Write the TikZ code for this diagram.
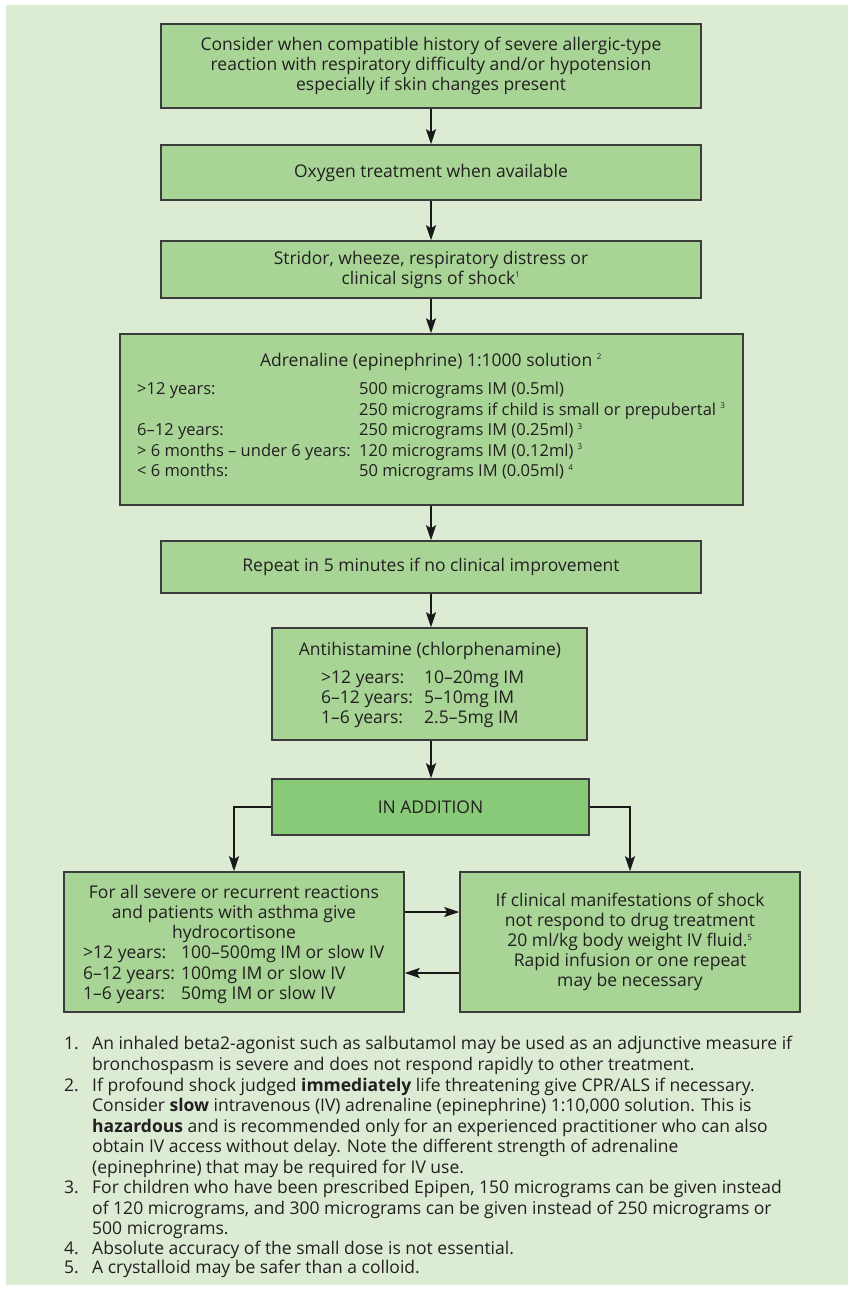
\documentclass[tikz,border=0pt]{standalone}
\usepackage{fontspec}
\setmainfont{Open Sans}
\usetikzlibrary{arrows.meta}
\definecolor{panelbg}{RGB}{219,235,212}
\definecolor{boxfill}{RGB}{168,213,150}
\definecolor{boxfilldark}{RGB}{137,202,120}
\definecolor{edge}{RGB}{60,60,60}
\definecolor{ink}{RGB}{35,31,32}
\newcommand\supmark[1]{\textsuperscript{\fontsize{8}{8}\selectfont #1}}
\begin{document}
\begin{tikzpicture}[x=1pt,y=-1pt,
  every node/.style={text=ink, font=\fontsize{17.5}{20}\selectfont},
  box/.style={draw=edge, line width=1.5pt, fill=boxfill, inner sep=0pt, align=center},
  keybox/.style={box, fill=boxfilldark},
  arr/.style={draw=black!90, line width=2pt, -{Stealth[length=15pt,width=10pt,inset=3pt]}},
  txt/.style={inner sep=0pt, anchor=base west},
  ctr/.style={inner sep=0pt, anchor=base},
  dose/.style={txt, font=\fontsize{16.5}{20}\selectfont}]
\useasboundingbox (0,0) rectangle (854,1290);
\fill[panelbg] (6,5) rectangle (848,1285);

% main column of steps
\node[box, minimum width=540pt, minimum height=84pt] (b1) at (431,66)
  {Consider when compatible history of severe allergic-type\\
   reaction with respiratory difficulty and/or hypotension\\
   especially if skin changes present};
\node[box, minimum width=540pt, minimum height=55pt] (b2) at (431,172.5)
  {Oxygen treatment when available};
\node[box, minimum width=540pt, minimum height=57pt] (b3) at (431,269.5)
  {Stridor, wheeze, respiratory distress or\\ clinical signs of shock\supmark{1}};
\node[box, minimum width=623pt, minimum height=171pt] (b4) at (431.5,419.5) {};
\node[box, minimum width=540pt, minimum height=52pt] (b5) at (431,567)
  {Repeat in 5 minutes if no clinical improvement};
\node[box, minimum width=315pt, minimum height=112pt] (b6) at (429.5,684) {};
\node[keybox, minimum width=317pt, minimum height=56pt] (b7) at (430.5,807) {IN ADDITION};
\node[box, minimum width=340pt, minimum height=140pt] (b8) at (234,942) {};
\node[box, minimum width=340pt, minimum height=140pt] (b9) at (630,942)
  {If clinical manifestations of shock\\ not respond to drug treatment\\
   20 ml/kg body weight IV fluid.\supmark{5}\\ Rapid infusion or one repeat\\ may be necessary};

% adrenaline doses
\node[ctr] (adt) at (431,366) {Adrenaline (epinephrine) 1:1000 solution \supmark{2}};
\node[dose] (a1l) at (137,394.5) {>12 years:};
\node[dose] (a1r) at (359,394.5) {500 micrograms IM (0.5ml)};
\node[dose] (a2r) at (359,415) {250 micrograms if child is small or prepubertal \supmark{3}};
\node[dose] (a3l) at (137,435.5) {6–12 years:};
\node[dose] (a3r) at (359,435.5) {250 micrograms IM (0.25ml) \supmark{3}};
\node[dose] (a4l) at (137,456) {> 6 months – under 6 years:};
\node[dose] (a4r) at (359,456) {120 micrograms IM (0.12ml) \supmark{3}};
\node[dose] (a5l) at (137,476.5) {< 6 months:};
\node[dose] (a5r) at (359,476.5) {50 micrograms IM (0.05ml) \supmark{4}};

% antihistamine doses
\node[ctr] (aht) at (430,655) {Antihistamine (chlorphenamine)};
\node[txt] (h1l) at (321,683) {>12 years:};
\node[txt] (h1r) at (424,683) {10–20mg IM};
\node[txt] (h2l) at (321,703) {6–12 years:};
\node[txt] (h2r) at (424,703) {5–10mg IM};
\node[txt] (h3l) at (321,723) {1–6 years:};
\node[txt] (h3r) at (424,723) {2.5–5mg IM};

% hydrocortisone doses
\node[ctr] (hc1) at (234,898) {For all severe or recurrent reactions};
\node[ctr] (hc2) at (234,918) {and patients with asthma give};
\node[ctr] (hc3) at (234,938) {hydrocortisone};
\node[txt] (c1l) at (83,958) {>12 years:};
\node[txt] (c1r) at (181,958) {100–500mg IM or slow IV};
\node[txt] (c2l) at (83,979) {6–12 years:};
\node[txt] (c2r) at (181,979) {100mg IM or slow IV};
\node[txt] (c3l) at (83,999) {1–6 years:};
\node[txt] (c3r) at (181,999) {50mg IM or slow IV};

% connectors
\draw[arr] (b1.south) -- (b2.north);
\draw[arr] (b2.south) -- (b3.north);
\draw[arr] (b3.south) -- (b3.south |- b4.north);
\draw[arr] (b3.south |- b4.south) -- (b5.north);
\draw[arr] (b5.south) -- (b5.south |- b6.north);
\draw[arr] (b5.south |- b6.south) -- (b5.south |- b7.north);
\draw[arr] (b7.west) -| (b8.north);
\draw[arr] (b7.east) -| (b9.north);
\draw[arr] ([yshift=30pt]b8.east) -- ([yshift=30pt]b9.west);
\draw[arr] ([yshift=-31pt]b9.west) -- ([yshift=-31pt]b8.east);

% footnotes
\node[txt] (n1) at (64,1049) {1.};
\node[txt] (f1a) at (92,1049) {An inhaled beta2-agonist such as salbutamol may be used as an adjunctive measure if};
\node[txt] (f1b) at (92,1070) {bronchospasm is severe and does not respond rapidly to other treatment.};
\node[txt] (n2) at (64,1091) {2.};
\node[txt] (f2a) at (92,1091) {If profound shock judged \textbf{immediately} life threatening give CPR/ALS if necessary.};
\node[txt] (f2b) at (92,1111) {Consider \textbf{slow} intravenous (IV) adrenaline (epinephrine) 1:10,000 solution. This is};
\node[txt] (f2c) at (92,1132) {\textbf{hazardous} and is recommended only for an experienced practitioner who can also};
\node[txt] (f2d) at (92,1152) {obtain IV access without delay. Note the different strength of adrenaline};
\node[txt] (f2e) at (92,1173) {(epinephrine) that may be required for IV use.};
\node[txt] (n3) at (64,1193) {3.};
\node[txt] (f3a) at (92,1193) {For children who have been prescribed Epipen, 150 micrograms can be given instead};
\node[txt] (f3b) at (92,1214) {of 120 micrograms, and 300 micrograms can be given instead of 250 micrograms or};
\node[txt] (f3c) at (92,1234) {500 micrograms.};
\node[txt] (n4) at (64,1254) {4.};
\node[txt] (f4a) at (92,1254) {Absolute accuracy of the small dose is not essential.};
\node[txt] (n5) at (64,1273) {5.};
\node[txt] (f5a) at (92,1273) {A crystalloid may be safer than a colloid.};
\end{tikzpicture}
\end{document}
